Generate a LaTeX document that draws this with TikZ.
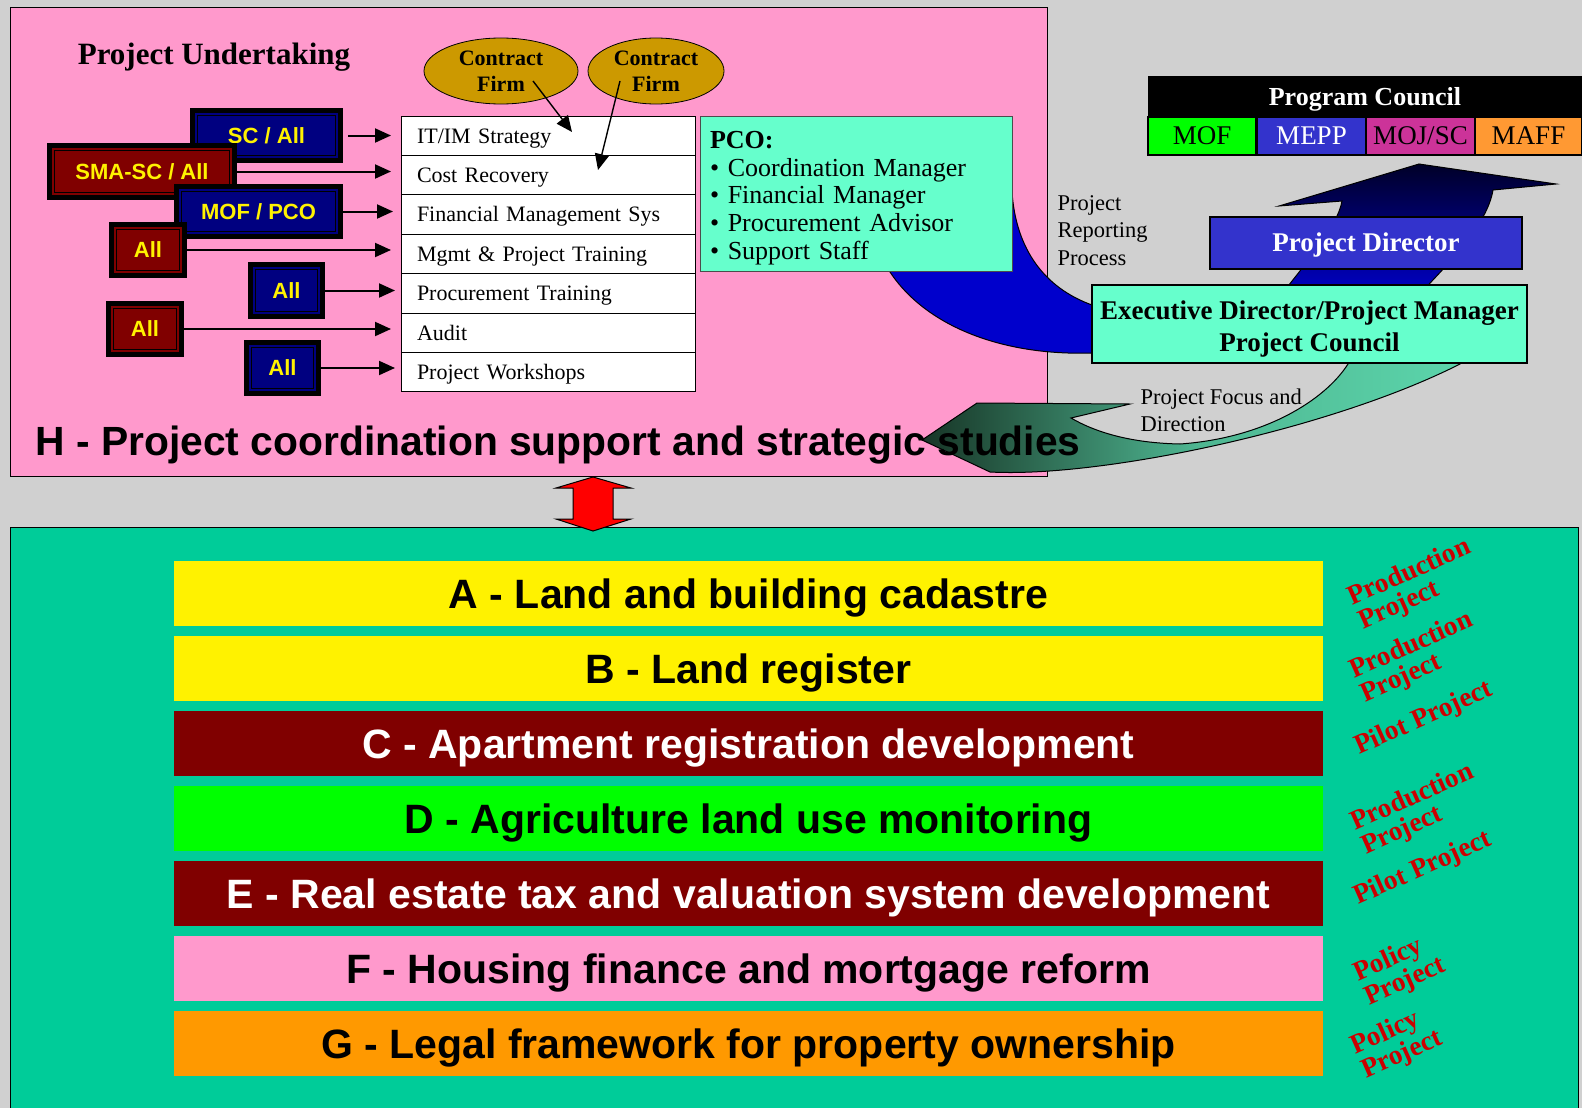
\documentclass[tikz,border=0pt]{standalone}
\usepackage{fontspec}
\setmainfont{Liberation Serif}
\setsansfont{Liberation Sans}
\usetikzlibrary{arrows.meta,shapes.geometric}
\definecolor{bggray}{HTML}{D0D0D0}
\definecolor{pinkbg}{HTML}{FF99CC}
\definecolor{tealbg}{HTML}{00CC99}
\definecolor{aqua}{HTML}{66FFCC}
\definecolor{tagblue}{HTML}{000080}
\definecolor{tagred}{HTML}{800000}
\definecolor{firm}{HTML}{CC9900}
\definecolor{pdblue}{HTML}{3333CC}
\definecolor{pdnavy}{HTML}{000028}
\definecolor{bandblue}{HTML}{0000CC}
\definecolor{mojpink}{HTML}{CC3399}
\definecolor{maffor}{HTML}{FF9933}
\definecolor{barorange}{HTML}{FF9900}
\definecolor{labred}{HTML}{CC0000}
\definecolor{tealdark}{HTML}{173526}
\definecolor{teallight}{HTML}{5CD6AC}

\begin{document}
\begin{tikzpicture}[x=1pt,y=-1pt,>={Triangle[length=16pt,width=14pt]},
	tagbox/.style={draw=black,line width=5pt,inner sep=0pt,text=yellow,text height=15.8pt,text depth=0pt,font=\sffamily\bfseries\fontsize{22}{26}\selectfont,
		path picture={\draw[black,line width=1.2pt] ([shift={(5pt,5pt)}]path picture bounding box.south west) rectangle ([shift={(-5pt,-5pt)}]path picture bounding box.north east);}},
	bluetag/.style={tagbox,fill=tagblue},
	redtag/.style={tagbox,fill=tagred},
	row/.style={draw=black,line width=0.8pt,fill=white,minimum width=294pt,minimum height=39.4pt,text width=262pt,inner xsep=16pt,text height=14.6pt,text depth=0pt,align=left,outer sep=0pt,font=\fontsize{22}{26}\selectfont},
	link/.style={->,line width=2pt},
	firmell/.style={ellipse,draw=black,line width=0.8pt,fill=firm,inner sep=0pt,minimum height=66pt,align=center,font=\bfseries\fontsize{22}{26}\selectfont},
	bar/.style={minimum width=1149pt,minimum height=65pt,inner sep=0pt,text height=29.5pt,text depth=0pt,font=\sffamily\bfseries\fontsize{41}{48}\selectfont},
	kind/.style={text=labred,rotate=24,align=left,inner sep=0pt,font=\bfseries\fontsize{27.5}{26}\selectfont},
	cell/.style={draw=black,line width=1.5pt,minimum height=38pt,inner sep=0pt,text height=17.9pt,text depth=0pt,font=\fontsize{27}{30}\selectfont},
	boxlab/.style={align=left,font=\fontsize{22.5}{27.5}\selectfont}]
		\useasboundingbox (0,0) rectangle (1582,1108);
		\fill[bggray] (0,0) rectangle (1582,1108);

		\draw[fill=pinkbg,line width=1pt] (10,8) rectangle (1047,476);
		\draw[fill=tealbg,line width=1pt] (10,527) rectangle (1578,1120);

		\draw[fill=red,line width=1pt] (593,477) -- (631,488) -- (613,488) -- (613,519) -- (631,519) -- (593,531) -- (556,519) -- (573,519) -- (573,488) -- (556,488) -- cycle;

		\node[font=\bfseries\fontsize{31}{36}\selectfont] (title) at (214,57) {Project Undertaking};

		\node[row] (it) at (548,135.7) {IT/IM Strategy};
		\node[row] (cost) at (548,175.1) {Cost Recovery};
		\node[row] (fms) at (548,214.5) {Financial Management Sys};
		\node[row] (mgmt) at (548,253.9) {Mgmt \& Project Training};
		\node[row] (proc) at (548,293.3) {Procurement Training};
		\node[row] (audit) at (548,332.7) {Audit};
		\node[row] (work) at (548,372.1) {Project Workshops};

		\node[firmell,minimum width=154pt] (cfa) at (501,71) {Contract\\Firm};
		\node[firmell,minimum width=136pt] (cfb) at (656,71) {Contract\\Firm};
		\coordinate (cfaend) at (572,132);
		\coordinate (cfbend) at (598,170);
		\draw[link,line width=1.4pt] ([shift={(32,10)}]cfa.center) -- (cfaend);
		\draw[link,line width=1.4pt] ([shift={(-36,10)}]cfb.center) -- (cfbend);

		\node[bluetag,minimum width=148pt,minimum height=50pt] (sc) at (266.5,135.5) {SC / All};
		\node[redtag,minimum width=185pt,minimum height=52pt] (smasc) at (142,171.5) {SMA-SC / All};
		\node[bluetag,minimum width=164pt,minimum height=50pt] (mofpco) at (258.5,211.5) {MOF / PCO};
		\node[redtag,minimum width=73pt,minimum height=51pt] (allra) at (148,250) {All};
		\node[bluetag,minimum width=72pt,minimum height=52pt] (allba) at (286.5,290.5) {All};
		\node[redtag,minimum width=73pt,minimum height=51pt] (allrb) at (145,329) {All};
		\node[bluetag,minimum width=72pt,minimum height=51pt] (allbb) at (282.5,368) {All};

		\draw[link,shorten <=5pt,shorten >=10pt] (sc.east) -- (sc.east -| it.west);
		\draw[link,shorten >=10pt] (smasc.east) -- (smasc.east -| cost.west);
		\draw[link,shorten >=8pt] (mofpco.east) -- (mofpco.east -| fms.west);
		\draw[link,shorten >=10pt] (allra.east) -- (allra.east -| mgmt.west);
		\draw[link,shorten >=6pt] (allba.east) -- (allba.east -| proc.west);
		\draw[link,shorten >=10pt] (allrb.east) -- (allrb.east -| audit.west);
		\draw[link,shorten >=6pt] (allbb.east) -- (allbb.east -| work.west);

		% reporting band and the two big arrows
		\draw[fill=bandblue,line width=1pt] (880,230) -- (1000,180) -- (1012,192) .. controls (1016,250) and (1045,288) .. (1092,305) -- (1110,305) -- (1110,353) -- (1092,353) .. controls (1000,356) and (925,325) .. (890,272) -- cycle;
		\draw[top color=pdnavy,bottom color=bandblue,line width=1pt] (1277,300) .. controls (1307,262) and (1338,225) .. (1342,201) -- (1279,206) -- (1419,164) -- (1556,184) -- (1493,190) .. controls (1487,225) and (1450,262) .. (1414,300) -- cycle;
		\draw[left color=tealdark,right color=teallight,middle color=teallight!80!tealdark,line width=1pt] (1354,355) -- (1348,364) .. controls (1325,400) and (1265,438) .. (1180,444) .. controls (1130,443) and (1095,432) .. (1071,418) -- (1130,404) -- (977,403) -- (922,440) -- (990,472) .. controls (1100,478) and (1330,430) .. (1460,364) -- (1470,355) -- cycle;

		\node[draw=black!70,line width=0.8pt,fill=aqua,minimum width=312pt,minimum height=155pt,text width=292pt,inner xsep=10pt,align=left,font=\fontsize{26}{27.7}\selectfont] (pco) at (856,193.5) {\rule{0pt}{26pt}\textbf{PCO:}\\\textbullet\ Coordination Manager\\\textbullet\ Financial Manager\\\textbullet\ Procurement Advisor\\\textbullet\ Support Staff};

		\node[draw=black,line width=1.5pt,fill=aqua,minimum width=435pt,minimum height=78pt,inner sep=0pt,align=center,font=\bfseries\fontsize{27}{32}\selectfont] (exec) at (1309.5,324) {\rule{0pt}{28.5pt}Executive Director/Project Manager\\Project Council};
		\node[draw=black,line width=1.5pt,fill=pdblue,text=white,minimum width=312pt,minimum height=52pt,inner sep=0pt,text height=17.9pt,text depth=0pt,font=\bfseries\fontsize{27}{30}\selectfont] (pd) at (1366,243) {Project Director};

		\node[fill=black,text=white,minimum width=434pt,minimum height=41pt,inner sep=0pt,text height=17.2pt,text depth=0pt,font=\bfseries\fontsize{26}{30}\selectfont] (pc) at (1365,96.5) {Program Council};
		\node[cell,fill=green,minimum width=108pt] (mof) at (1202,136) {MOF};
		\node[cell,fill=pdblue,text=white,minimum width=109pt] (mepp) at (1311.5,136) {MEPP};
		\node[cell,fill=mojpink,minimum width=109pt] (moj) at (1420.5,136) {MOJ/SC};
		\node[cell,fill=maffor,minimum width=107pt] (maff) at (1528.5,136) {MAFF};

		\node[boxlab,anchor=west] (reporting) at (1054,230.5) {Project\\Reporting\\Process};
		\node[boxlab,anchor=west] (focus) at (1137,410.5) {Project Focus and\\Direction};

		\node[anchor=west,text height=29.5pt,text depth=0pt,font=\sffamily\bfseries\fontsize{40.8}{48}\selectfont] (htitle) at (32,441) {H - Project coordination support and strategic studies};

		\node[bar,fill=yellow] (bara) at (748.5,593.5) {A - Land and building cadastre};
		\node[bar,fill=yellow] (barb) at (748.5,668.5) {B - Land register};
		\node[bar,fill=tagred,text=white] (barc) at (748.5,743.5) {C - Apartment registration development};
		\node[bar,fill=green] (bard) at (748.5,818.5) {D - Agriculture land use monitoring};
		\node[bar,fill=tagred,text=white] (bare) at (748.5,893.5) {E - Real estate tax and valuation system development};
		\node[bar,fill=pinkbg] (barf) at (748.5,968.5) {F - Housing finance and mortgage reform};
		\node[bar,fill=barorange] (barg) at (748.5,1043.5) {G - Legal framework for property ownership};

		\node[kind] (kinda) at (1415,585) {Production\\Project};
		\node[kind] (kindb) at (1417,658) {Production\\Project};
		\node[kind] (kindc) at (1424,719) {Pilot Project};
		\node[kind] (kindd) at (1418,810) {Production\\Project};
		\node[kind] (kinde) at (1423,869) {Pilot Project};
		\node[kind] (kindf) at (1400,970) {Policy\\Project};
		\node[kind] (kindg) at (1397,1043) {Policy\\Project};

	\end{tikzpicture}
\end{document}
